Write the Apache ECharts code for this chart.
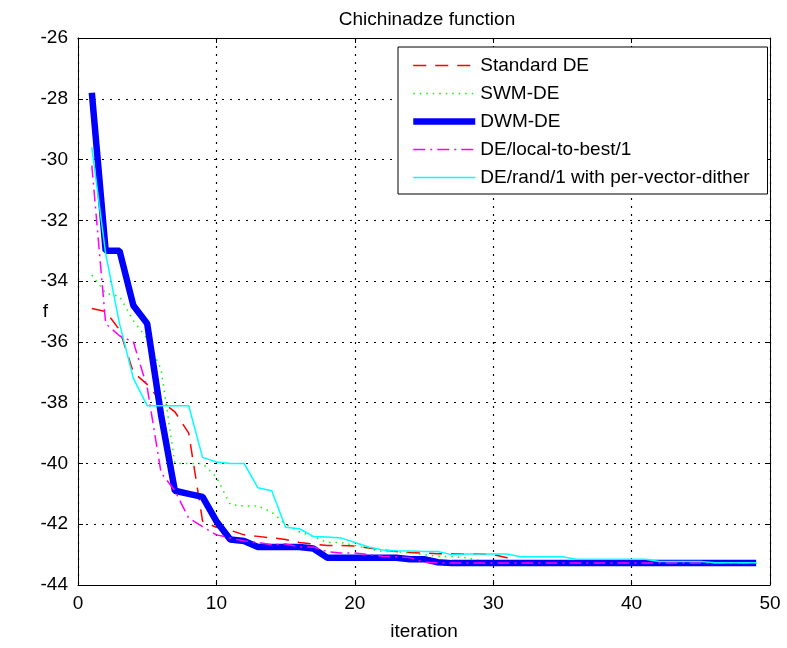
<!DOCTYPE html>
<html>
<head>
<meta charset="utf-8">
<title>Chichinadze function</title>
<script src="https://cdn.jsdelivr.net/npm/echarts@6/dist/echarts.min.js"></script>
<style>
  html, body { margin: 0; padding: 0; background: #ffffff; }
  #chart { width: 787px; height: 648px; }
</style>
</head>
<body>
<div id="chart"></div>
<script>
// Iteration numbers shared by every run
var iterations = [1, 2, 3, 4, 5, 6, 7, 8, 9, 10,
  11, 12, 13, 14, 15, 16, 17, 18, 19, 20,
  21, 22, 23, 24, 25, 26, 27, 28, 29, 30,
  31, 32, 33, 34, 35, 36, 37, 38, 39, 40,
  41, 42, 43, 44, 45, 46, 47, 48, 49];

// Best objective value found so far, per iteration
var standardDE = [-34.9, -35.0, -35.6, -37.0, -37.4, -37.95, -38.3, -39.0, -41.9, -42.1,
  -42.2, -42.35, -42.4, -42.45, -42.5, -42.6, -42.65, -42.7, -42.7, -42.72,
  -42.78, -42.85, -42.9, -42.93, -42.95, -42.97, -42.97, -42.97, -42.97, -43.0,
  -43.1, -43.25, -43.3, -43.3, -43.3, -43.3, -43.3, -43.3, -43.3, -43.3,
  -43.3, -43.3, -43.3, -43.3, -43.3, -43.3, -43.3, -43.3, -43.3];

var swmDE = [-33.8, -34.4, -34.5, -35.3, -35.9, -36.9, -40.0, -40.0, -40.0, -40.45,
  -41.35, -41.4, -41.4, -41.6, -42.0, -42.25, -42.4, -42.6, -42.6, -42.7,
  -42.8, -42.9, -42.9, -42.95, -43.0, -43.05, -43.07, -43.1, -43.2, -43.3,
  -43.3, -43.3, -43.3, -43.3, -43.3, -43.3, -43.3, -43.3, -43.3, -43.3,
  -43.3, -43.3, -43.3, -43.3, -43.3, -43.3, -43.3, -43.3, -43.3];

var dwmDE = [-27.8, -33.0, -33.0, -34.8, -35.4, -38.4, -40.9, -41.0, -41.1, -41.9,
  -42.5, -42.55, -42.75, -42.75, -42.75, -42.75, -42.8, -43.1, -43.1, -43.1,
  -43.1, -43.1, -43.1, -43.15, -43.15, -43.25, -43.28, -43.28, -43.28, -43.28,
  -43.28, -43.28, -43.28, -43.28, -43.28, -43.28, -43.28, -43.28, -43.28, -43.28,
  -43.28, -43.28, -43.28, -43.28, -43.28, -43.28, -43.28, -43.28, -43.28];

var localToBest = [-30.2, -35.4, -35.8, -36.0, -37.5, -40.3, -40.9, -41.8, -42.08, -42.35,
  -42.45, -42.55, -42.6, -42.68, -42.65, -42.75, -42.75, -42.9, -42.95, -42.95,
  -43.0, -43.05, -43.07, -43.1, -43.25, -43.27, -43.28, -43.28, -43.28, -43.28,
  -43.28, -43.28, -43.28, -43.28, -43.28, -43.28, -43.28, -43.28, -43.28, -43.28,
  -43.28, -43.28, -43.28, -43.28, -43.28, -43.28, -43.28, -43.28, -43.28];

var randDither = [-29.6, -33.1, -35.4, -37.2, -38.1, -38.1, -38.1, -38.1, -39.8, -39.95,
  -40.0, -40.0, -40.8, -40.9, -42.1, -42.15, -42.4, -42.42, -42.45, -42.6,
  -42.75, -42.85, -42.87, -42.88, -42.9, -42.9, -43.0, -42.98, -42.98, -42.98,
  -42.98, -43.07, -43.07, -43.07, -43.07, -43.15, -43.15, -43.15, -43.15, -43.15,
  -43.15, -43.23, -43.23, -43.23, -43.23, -43.27, -43.27, -43.27, -43.27];

var seriesNames = ['Standard DE', 'SWM-DE', 'DWM-DE', 'DE/local-to-best/1',
  'DE/rand/1 with per-vector-dither'];

var xTicks = { min: 0, max: 50, interval: 10 };
var yTicks = { min: -44, max: -26, interval: 2 };

function pairs(values) {
  return iterations.map(function (it, i) { return [it, values[i]]; });
}

// Line looks for the five runs (shared by plot and legend)
var lineLooks = [
  { color: '#ff0000', width: 1.5, type: [13, 9] },
  { color: '#00ff00', width: 1.5, type: [1.5, 5] },
  { color: '#0000ff', width: 6.5, type: 'solid' },
  { color: '#ff00ff', width: 1.5, type: [12, 5, 2, 5] },
  { color: '#00ffff', width: 1.5, type: 'solid' }
];
var runValues = [standardDE, swmDE, dwmDE, localToBest, randDither];

var FONT = "'Liberation Sans', Arial, Helvetica, sans-serif";
var FS = 19;
var gridDots = { color: '#000', width: 1.2, type: [2, 6] };

var chart = echarts.init(document.getElementById('chart'), null, { renderer: 'canvas' });

function baseAxis(extra) {
  var a = {
    type: 'value',
    axisLine: { show: true, onZero: false, lineStyle: { color: '#000', width: 1 } },
    axisTick: { show: true, inside: true, length: 5, lineStyle: { color: '#000' } },
    axisLabel: { show: true, color: '#000', fontSize: FS, fontFamily: FONT },
    splitLine: { show: false }
  };
  for (var k in extra) a[k] = extra[k];
  return a;
}

var option = {
  animation: false,
  backgroundColor: '#ffffff',
  title: {
    text: 'Chichinadze function',
    left: 422,
    top: 5,
    textAlign: 'center',
    textStyle: { color: '#000', fontSize: FS, fontWeight: 'normal', fontFamily: FONT }
  },
  grid: { left: 78, right: 17, top: 38, bottom: 63, containLabel: false },
  xAxis: [
    baseAxis({
      position: 'bottom', min: xTicks.min, max: xTicks.max, interval: xTicks.interval,
      name: 'iteration', nameLocation: 'middle', nameGap: 37, nameMoveOverlap: false,
      nameTextStyle: { color: '#000', fontSize: FS, fontFamily: FONT },
      axisLabel: { show: true, color: '#000', fontSize: FS, fontFamily: FONT, margin: 9 },
      splitLine: { show: true, lineStyle: gridDots }
    }),
    baseAxis({
      position: 'top', min: xTicks.min, max: xTicks.max, interval: xTicks.interval,
      axisLabel: { show: false }
    })
  ],
  yAxis: [
    baseAxis({
      position: 'left', min: yTicks.min, max: yTicks.max, interval: yTicks.interval,
      name: 'f', nameLocation: 'middle', nameGap: 30, nameRotate: 0, nameMoveOverlap: false,
      nameTextStyle: { color: '#000', fontSize: FS, fontFamily: FONT },
      axisLabel: { show: true, color: '#000', fontSize: FS, fontFamily: FONT, margin: 10 },
      splitLine: { show: true, lineStyle: gridDots }
    }),
    baseAxis({
      position: 'right', min: yTicks.min, max: yTicks.max, interval: yTicks.interval,
      axisLabel: { show: false }
    })
  ],
  legend: {
    orient: 'vertical',
    left: 398,
    top: 47,
    backgroundColor: '#ffffff',
    borderColor: '#000',
    borderWidth: 1,
    borderRadius: 0,
    padding: [9, 18, 7, 12],
    itemWidth: 62,
    itemHeight: 14,
    itemGap: 9,
    textStyle: { color: '#000', fontSize: FS, lineHeight: 18, fontFamily: FONT },
    data: seriesNames.map(function (name, i) {
      return {
        name: name,
        itemStyle: { color: lineLooks[i].color, borderColor: lineLooks[i].color, opacity: 0 },
        lineStyle: { color: lineLooks[i].color, width: lineLooks[i].width, type: lineLooks[i].type, opacity: 1 }
      };
    })
  },
  series: seriesNames.map(function (name, i) {
    return {
      name: name,
      type: 'line',
      data: pairs(runValues[i]),
      symbol: 'none',
      showSymbol: false,
      lineStyle: { color: lineLooks[i].color, width: lineLooks[i].width, type: lineLooks[i].type },
      itemStyle: { color: lineLooks[i].color }
    };
  })
};

chart.setOption(option);
</script>
</body>
</html>
